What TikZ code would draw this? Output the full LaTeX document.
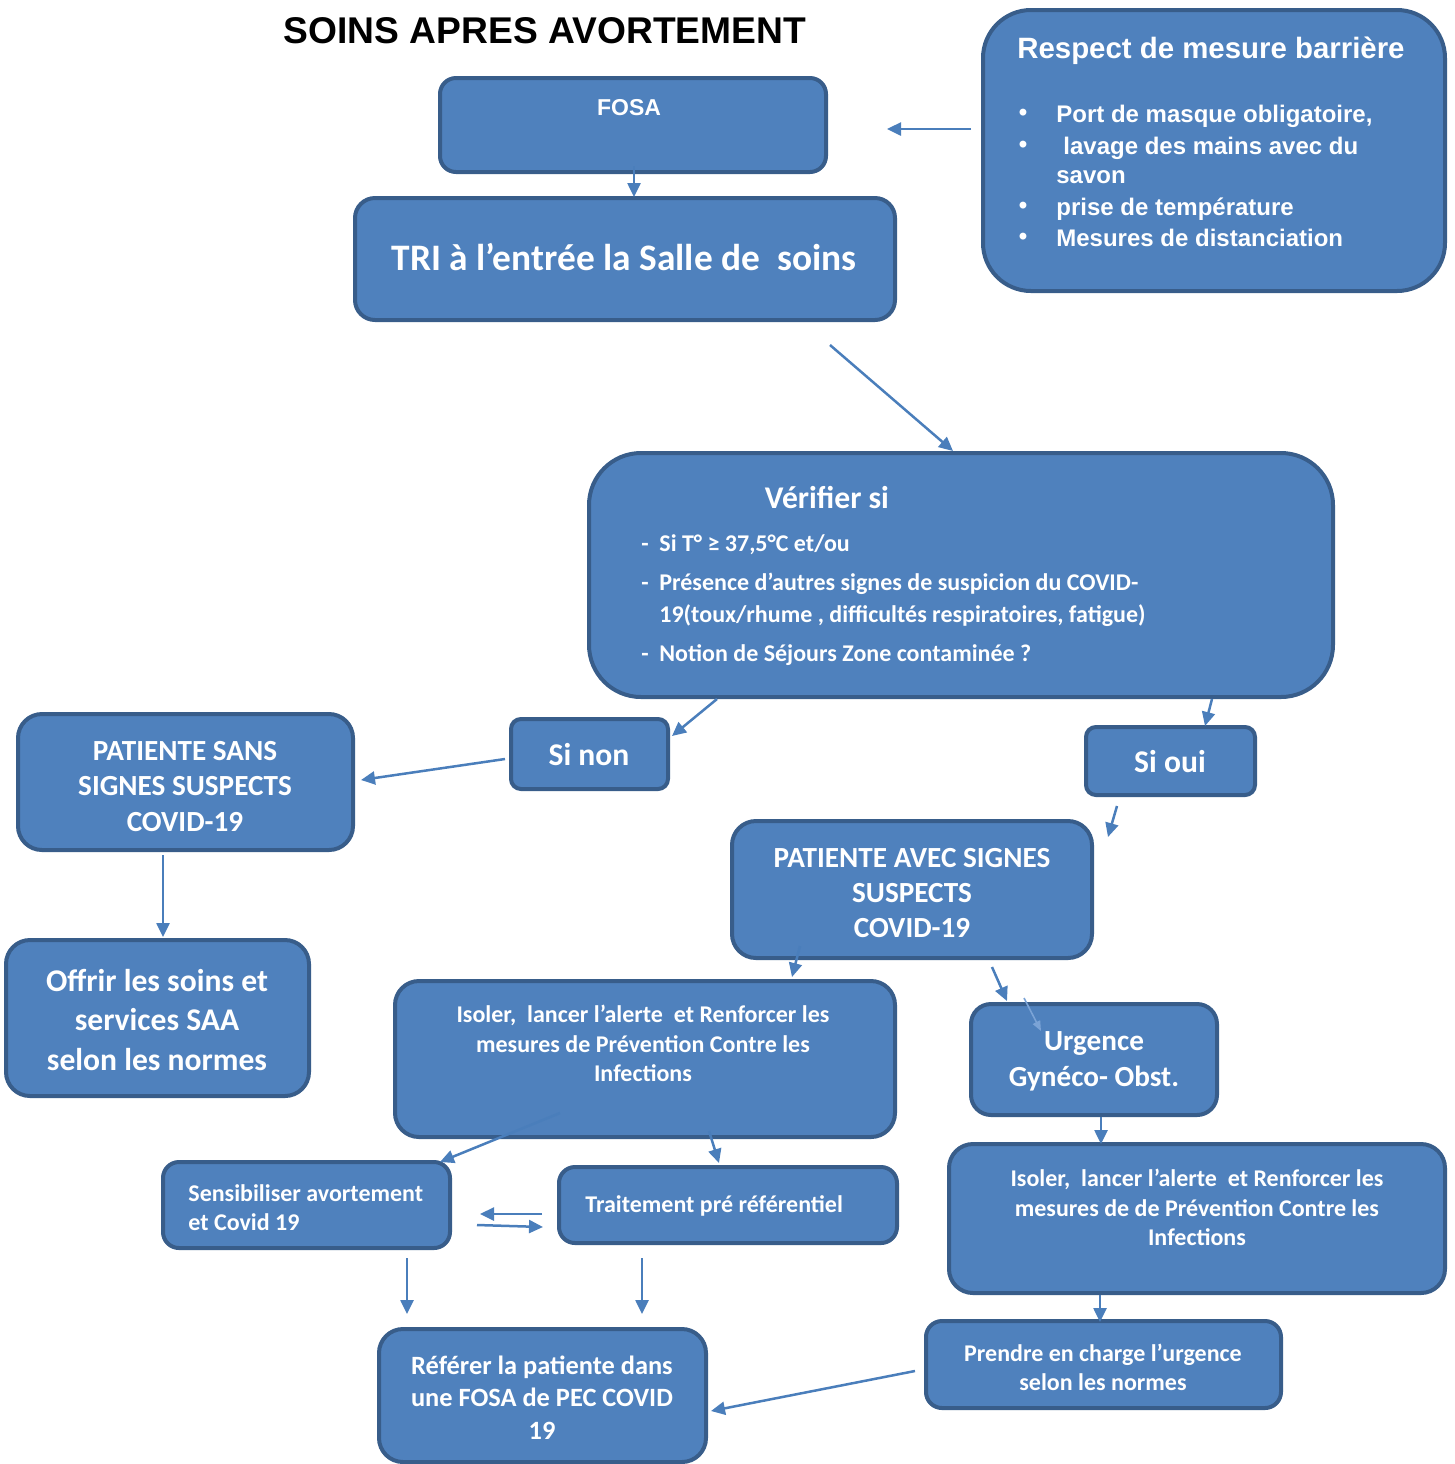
\documentclass[tikz,border=0pt]{standalone}
\usepackage{fontspec}
\setmainfont{Carlito}
\newfontfamily\arialfam{Liberation Sans}
\usetikzlibrary{arrows.meta}
\definecolor{boxfill}{HTML}{4F81BD}
\definecolor{boxline}{HTML}{385D8A}
\definecolor{arrowc}{HTML}{4A7EBB}
\definecolor{faintc}{HTML}{7BA3D6}
\newcommand\fs[2]{\fontsize{#1}{#2}\selectfont\bfseries}
\tikzset{
  box/.style={draw=boxline, fill=boxfill, line width=2pt, inner sep=0pt, rounded corners=#1},
  box/.default=12pt,
  lbl/.style={text=white, align=center, inner sep=0pt},
  conn/.style={draw=arrowc, line width=1.25pt, -{Triangle[length=7pt,width=6.5pt]}},
}
\begin{document}
\begin{tikzpicture}[x=0.5pt, y=-0.5pt]
\path[use as bounding box] (0,0) rectangle (1455,1464);

% title
\node[inner sep=0pt, font=\arialfam\fs{18.6}{22}] (title) at (545,31) {SOINS APRES AVORTEMENT};

% boxes
\node[box=8pt,  minimum width=193pt, minimum height=47pt]  (fosa)    at (633,125) {};
\node[box=10pt, minimum width=270pt, minimum height=61pt]  (tri)     at (625,259) {};
\node[box=24pt, minimum width=231pt, minimum height=140.5pt] (resp)  at (1214,150.5) {};
\node[box=26pt, minimum width=372pt, minimum height=122pt] (verif)   at (961,575) {};
\node[box=5pt,  minimum width=78.5pt, minimum height=35pt] (sinon)   at (589.5,754) {};
\node[box=5pt,  minimum width=84.5pt, minimum height=34pt] (sioui)   at (1170.5,761) {};
\node[box=12pt, minimum width=167.5pt, minimum height=68pt] (sans)   at (185.5,782) {};
\node[box=12pt, minimum width=151.5pt, minimum height=78pt] (offrir) at (157.5,1018) {};
\node[box=12pt, minimum width=180pt, minimum height=68.5pt] (avec)   at (912,889.5) {};
\node[box=12pt, minimum width=250pt, minimum height=78pt]  (isoa)    at (645,1059) {};
\node[box=10pt, minimum width=123pt, minimum height=55.5pt] (urg)    at (1094,1059.5) {};
\node[box=12pt, minimum width=248pt, minimum height=74.5pt] (isob)   at (1197,1218.5) {};
\node[box=8pt,  minimum width=177.5pt, minimum height=43.5pt] (prendre) at (1103.5,1364.5) {};
\node[box=12pt, minimum width=163.5pt, minimum height=66.5pt] (referer) at (542.5,1395.5) {};
\node[box=8pt,  minimum width=143.5pt, minimum height=43pt] (sens)   at (306.5,1205) {};
\node[box=8pt,  minimum width=169pt, minimum height=38pt]  (trait)   at (728,1205) {};

% texts
\node[lbl, font=\arialfam\fs{11.5}{14}] (fosat) at (629,108) {FOSA};
\node[lbl, font=\fs{18.7}{22}] (trit) at (624,257) {TRI à l’entrée la Salle de\ \ soins};

\node[lbl, font=\arialfam\fs{14.7}{18}] (respt) at (1211,51) {Respect de mesure barrière};
\begin{scope}[every node/.style={lbl, font=\arialfam\fs{12}{14}}]
  \node (b1) at (1023,115) {•};
  \node (b2) at (1023,147) {•};
  \node (b3) at (1023,208) {•};
  \node (b4) at (1023,239) {•};
  \node[anchor=base west] (r1) at (1056,122) {Port de masque obligatoire,};
  \node[anchor=base west] (r2) at (1063,154) {lavage des mains avec du};
  \node[anchor=base west] (r3) at (1056,183) {savon};
  \node[anchor=base west] (r4) at (1056,215) {prise de température};
  \node[anchor=base west] (r5) at (1056,246) {Mesures de distanciation};
\end{scope}

\node[lbl, font=\fs{15.8}{19}] (veriftitle) at (827,497) {Vérifier si};
\begin{scope}[every node/.style={lbl, font=\fs{12}{14}}]
  \node[anchor=base] (d1) at (645,551) {-};
  \node[anchor=base] (d2) at (645,590) {-};
  \node[anchor=base] (d3) at (645,661) {-};
  \node[anchor=base west] (v1) at (659,551) {Si T° ≥ 37,5°C et/ou};
  \node[anchor=base west] (v2) at (659,590) {Présence d’autres signes de suspicion du COVID-};
  \node[anchor=base west] (v3) at (659,622) {19(toux/rhume , difficultés respiratoires, fatigue)};
  \node[anchor=base west] (v4) at (659,661) {Notion de Séjours Zone contaminée ?};
\end{scope}

\node[lbl, font=\fs{15.8}{19}] (sinont) at (589,755) {Si non};
\node[lbl, font=\fs{15.8}{19}] (siouit) at (1170,762) {Si oui};
\node[lbl, font=\fs{14.6}{17.75}] (sanst) at (185,786.5) {PATIENTE SANS\\SIGNES SUSPECTS\\COVID-19};
\node[lbl, font=\fs{15.8}{19.75}] (offrirt) at (157,1019.5) {Offrir les soins et\\services SAA\\selon les normes};
\node[lbl, font=\fs{14.6}{17.5}] (avect) at (912,893) {PATIENTE AVEC SIGNES\\SUSPECTS\\COVID-19};
\node[lbl, font=\fs{12}{14.75}] (isoat) at (643,1043.5) {Isoler,\ \ lancer l’alerte\ \ et Renforcer les\\mesures de Prévention Contre les\\Infections};
\node[lbl, font=\fs{14.6}{18}] (urgt) at (1094,1061) {Urgence\\Gynéco- Obst.};
\node[lbl, font=\fs{12}{14.75}] (isobt) at (1197,1207.5) {Isoler,\ \ lancer l’alerte\ \ et Renforcer les\\mesures de de Prévention Contre les\\Infections};
\node[lbl, font=\fs{12}{14.5}] (prendret) at (1103,1367.5) {Prendre en charge l’urgence\\selon les normes};
\node[lbl, font=\fs{13.2}{16.25}] (referert) at (542,1397.5) {Référer la patiente dans\\une FOSA de PEC COVID\\19};
\node[lbl, align=left, anchor=west, font=\fs{12}{14.5}] (senst) at (188,1207.5) {Sensibiliser avortement\\et Covid 19};
\node[lbl, anchor=west, font=\fs{12}{14.5}] (traitt) at (585,1206) {Traitement pré référentiel};

% connector end points
\coordinate (fosaS) at (634,166);   \coordinate (triN) at (634,197);
\coordinate (respW) at (971,129);   \coordinate (fosaE) at (887,129);
\coordinate (triS) at (830,345);    \coordinate (verifN) at (953,451);
\coordinate (verifSW) at (717,699); \coordinate (sinonNE) at (672,736);
\coordinate (verifSE) at (1212,699);\coordinate (siouiN) at (1205,726);
\coordinate (sinonW) at (505,759);  \coordinate (sansE) at (361,780);
\coordinate (sansS) at (163,855);   \coordinate (offrirN) at (163,937);
\coordinate (siouiS) at (1117,806); \coordinate (avecNE) at (1108,837);
\coordinate (avecS) at (800,946);   \coordinate (isoaN) at (792,977);
\coordinate (avecSE) at (992,967);  \coordinate (urgN) at (1007,1001);
\coordinate (urgA) at (1024,998);   \coordinate (urgB) at (1041,1031);
\coordinate (urgS) at (1101,1117);  \coordinate (isobN) at (1101,1144);
\coordinate (isobS) at (1100,1295); \coordinate (prendreN) at (1100,1322);
\coordinate (prendreW) at (915,1371); \coordinate (refererE) at (711,1411);
\coordinate (isoaSW) at (560,1113); \coordinate (sensNE) at (440,1162);
\coordinate (isoaS) at (709,1131);  \coordinate (traitN) at (719,1163);
\coordinate (traitL) at (542,1214); \coordinate (sensR) at (480,1214);
\coordinate (sensR2) at (477,1225); \coordinate (traitL2) at (543,1227);
\coordinate (sensS) at (407,1258);  \coordinate (refererNW) at (407,1314);
\coordinate (traitS) at (642,1258); \coordinate (refererNE) at (642,1314);

% connectors
\draw[conn] (fosaS) -- (triN);
\draw[conn] (respW) -- (fosaE);
\draw[conn] (triS) -- (verifN);
\draw[conn] (verifSW) -- (sinonNE);
\draw[conn] (verifSE) -- (siouiN);
\draw[conn] (sinonW) -- (sansE);
\draw[conn] (sansS) -- (offrirN);
\draw[conn] (siouiS) -- (avecNE);
\draw[conn] (avecS) -- (isoaN);
\draw[conn] (avecSE) -- (urgN);
\draw[draw=faintc, line width=0.8pt, -{Triangle[length=5pt,width=4pt]}] (urgA) -- (urgB);
\draw[conn] (urgS) -- (isobN);
\draw[conn] (isobS) -- (prendreN);
\draw[conn] (prendreW) -- (refererE);
\draw[conn] (isoaSW) -- (sensNE);
\draw[conn] (isoaS) -- (traitN);
\draw[conn] (traitL) -- (sensR);
\draw[conn] (sensR2) -- (traitL2);
\draw[conn] (sensS) -- (refererNW);
\draw[conn] (traitS) -- (refererNE);
\end{tikzpicture}
\end{document}
